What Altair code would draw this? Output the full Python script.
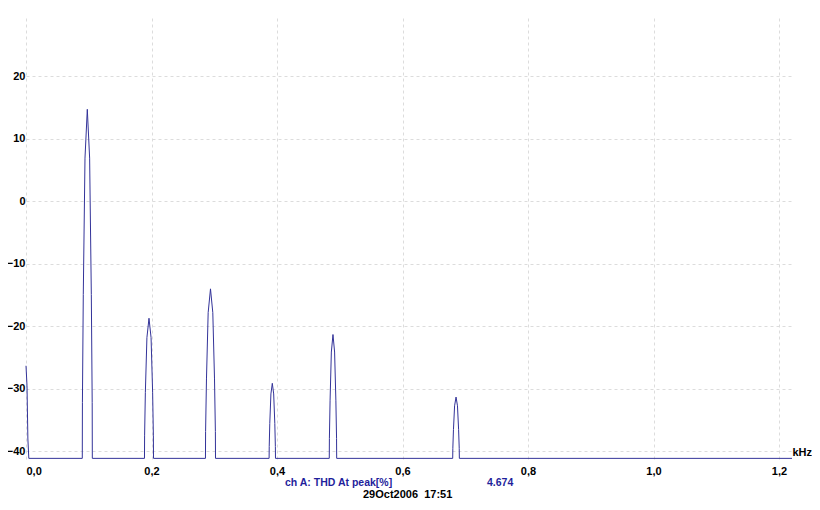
import altair as alt
import pandas as pd

# Spectrum trace (frequency in kHz, level in dB)
freq_khz = [
    0.0000, 0.0016, 0.0030, 0.0045,
    0.0897, 0.0899, 0.0913, 0.0940, 0.0977, 0.1014, 0.1041, 0.1055, 0.1057,
    0.1888, 0.1890, 0.1902, 0.1927, 0.1960, 0.1993, 0.2018, 0.2030, 0.2032,
    0.2860, 0.2862, 0.2876, 0.2903, 0.2940, 0.2977, 0.3004, 0.3018, 0.3020,
    0.3874, 0.3876, 0.3885, 0.3903, 0.3925, 0.3947, 0.3965, 0.3974, 0.3976,
    0.4833, 0.4835, 0.4846, 0.4866, 0.4892, 0.4918, 0.4938, 0.4949, 0.4951,
    0.6800, 0.6802, 0.6812, 0.6830, 0.6853, 0.6876, 0.6894, 0.6904, 0.6906,
    1.2207,
]
level_db = [
    -26.3, -29.5, -38.0, -41.1,
    -41.1, -32.2, -14.9, 6.9, 14.7, 6.9, -14.9, -32.2, -41.1,
    -41.1, -37.5, -30.6, -21.8, -18.7, -21.8, -30.6, -37.5, -41.1,
    -41.1, -36.8, -28.4, -17.8, -14.0, -17.8, -28.4, -36.8, -41.1,
    -41.1, -39.2, -35.5, -30.8, -29.1, -30.8, -35.5, -39.2, -41.1,
    -41.1, -37.9, -31.8, -24.1, -21.3, -24.1, -31.8, -37.9, -41.1,
    -41.1, -39.5, -36.5, -32.7, -31.3, -32.7, -36.5, -39.5, -41.1,
    -41.1,
]

x_ticks = [0.0, 0.2, 0.4, 0.6, 0.8, 1.0, 1.2]
y_ticks = [-40, -30, -20, -10, 0, 10, 20]

info_label = "ch A: THD At peak[%]"
info_value = "4.674"
stamp = "29Oct2006\u00a0\u00a017:51"

df = pd.DataFrame({"f": freq_khz, "db": level_db})

FONT = "Liberation Sans"
LINE = "#333399"
BLUE = "#1f1f9c"

line = alt.Chart(df).mark_line(color=LINE, strokeWidth=1).encode(
    x=alt.X(
        "f:Q",
        scale=alt.Scale(domain=[0, 1.2207], nice=False, zero=False),
        axis=alt.Axis(
            values=x_ticks,
            labelExpr="replace(format(datum.value, '.1f'), '.', ',')",
            grid=True,
            gridColor="#dcdcdc",
            gridDash=[3, 3],
            domain=False,
            ticks=False,
            labelPadding=6,
            labelFont=FONT,
            labelFontSize=11,
            labelFontWeight="bold",
            labelColor="#000000",
            title="kHz",
            titleX=766,
            titleY=-7,
            titleAlign="left",
            titleBaseline="middle",
            titleFont=FONT,
            titleFontSize=11,
            titleFontWeight="bold",
            titleColor="#000000",
        ),
    ),
    y=alt.Y(
        "db:Q",
        scale=alt.Scale(domain=[-41.2, 29.3], nice=False, zero=False),
        axis=alt.Axis(
            values=y_ticks,
            format="d",
            grid=True,
            gridColor="#dcdcdc",
            gridDash=[3, 3],
            domain=False,
            ticks=False,
            labelPadding=1,
            labelFont=FONT,
            labelFontSize=11,
            labelFontWeight="bold",
            labelColor="#000000",
            title=None,
        ),
    ),
)

txt_base = alt.Chart(pd.DataFrame({"a": [0]}))

t1 = txt_base.mark_text(
    text=info_label, align="left", baseline="middle", font=FONT,
    fontSize=10.5, fontWeight="bold", color=BLUE,
).encode(x=alt.value(259), y=alt.value(465))

t2 = txt_base.mark_text(
    text=info_value, align="left", baseline="middle", font=FONT,
    fontSize=10.5, fontWeight="bold", color=BLUE,
).encode(x=alt.value(461), y=alt.value(465))

t3 = txt_base.mark_text(
    text=stamp, align="left", baseline="middle", font=FONT,
    fontSize=11, fontWeight="bold", color="#000000",
).encode(x=alt.value(337), y=alt.value(477))

chart = alt.layer(line, t1, t2, t3).properties(
    width=766,
    height=441,
    autosize=alt.AutoSizeParams(type="none"),
    padding={"left": 18, "top": 10, "right": 20, "bottom": 43},
    background="white",
).configure_view(stroke=None)

chart.save("out.html", embed_options={"renderer": "svg", "actions": False})
